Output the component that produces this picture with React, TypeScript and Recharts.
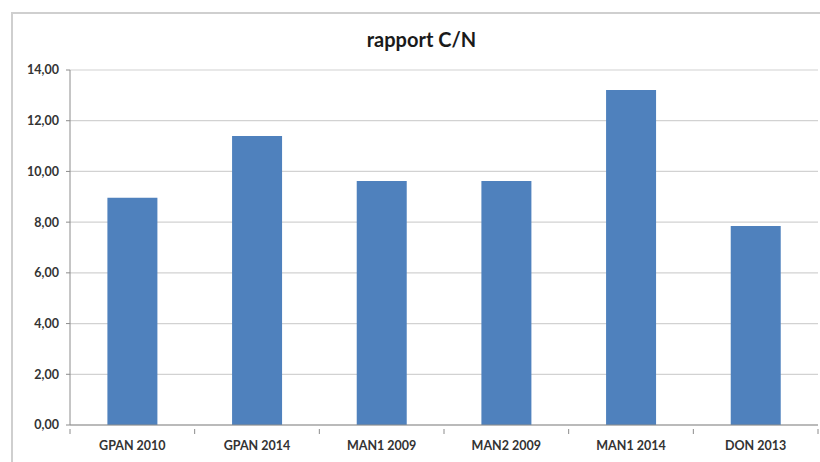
import React from 'react';
import { BarChart, Bar, XAxis, YAxis, CartesianGrid } from 'recharts';

// Rapport C/N par site et par année
const categories = ['GPAN 2010', 'GPAN 2014', 'MAN1 2009', 'MAN2 2009', 'MAN1 2014', 'DON 2013'];
const ratios = [8.96, 11.4, 9.62, 9.62, 13.21, 7.85];
const yTicks = [0, 2, 4, 6, 8, 10, 12, 14];
const title = 'rapport C/N';

const data = categories.map((name, i) => ({ name, cn: ratios[i] }));

const FONT = 'Lato, "Open Sans", sans-serif';
const AXIS = '#8c8c8c';

const fmt = (v: number) => v.toFixed(2).replace('.', ',');

// Category label plus Excel-style tick marks placed on the category boundaries
const XTick = (props: any) => {
  const { x, y, payload, index, visibleTicksCount, width } = props;
  const step = width && visibleTicksCount ? width / visibleTicksCount : 0;
  const axisY = y - 12;
  return (
    <g>
      {step > 0 && (
        <line x1={x - step / 2} x2={x - step / 2} y1={axisY} y2={axisY + 5} stroke={AXIS} />
      )}
      {step > 0 && index === visibleTicksCount - 1 && (
        <line x1={x + step / 2} x2={x + step / 2} y1={axisY} y2={axisY + 5} stroke={AXIS} />
      )}
      <text
        x={x}
        y={y}
        dy="0.71em"
        textAnchor="middle"
        fill="#333"
        fontFamily={FONT}
        fontWeight={700}
        fontSize={12.5}
      >
        {payload.value}
      </text>
    </g>
  );
};

export default function App() {
  return (
    <div style={{ position: 'absolute', left: 0, top: 0, width: 820, height: 462, background: '#fff', overflow: 'hidden' }}>
      <div
        style={{
          position: 'absolute',
          left: 11,
          top: 12,
          width: 840,
          height: 480,
          borderLeft: '2px solid #cfcfcf',
          borderTop: '2px solid #cfcfcf',
        }}
      />
      <div
        style={{
          position: 'absolute',
          left: 0,
          width: 843,
          top: 27,
          textAlign: 'center',
          fontFamily: FONT,
          fontWeight: 700,
          fontSize: 20,
          color: '#1a1a1a',
        }}
      >
        {title}
      </div>
      <div style={{ position: 'absolute', left: 0, top: 0 }}>
        <BarChart
          width={820}
          height={462}
          data={data}
          margin={{ top: 70, right: 2, bottom: 0, left: 0 }}
          barCategoryGap="30%"
        >
          <CartesianGrid vertical={false} stroke="#d2d2d2" strokeWidth={1.2} />
          <YAxis
            width={70}
            domain={[0, 14]}
            ticks={yTicks}
            interval={0}
            tickFormatter={fmt}
            axisLine={{ stroke: AXIS }}
            tickLine={{ stroke: AXIS }}
            tickSize={4}
            tickMargin={7}
            tick={{ fill: '#333', fontFamily: FONT, fontWeight: 700, fontSize: 12.5 }}
          />
          <XAxis
            dataKey="name"
            height={37}
            interval={0}
            axisLine={{ stroke: AXIS }}
            tickLine={false}
            tickSize={0}
            tickMargin={16}
            tick={<XTick />}
          />
          <Bar dataKey="cn" fill="#4F81BD" isAnimationActive={false} />
        </BarChart>
      </div>
    </div>
  );
}
